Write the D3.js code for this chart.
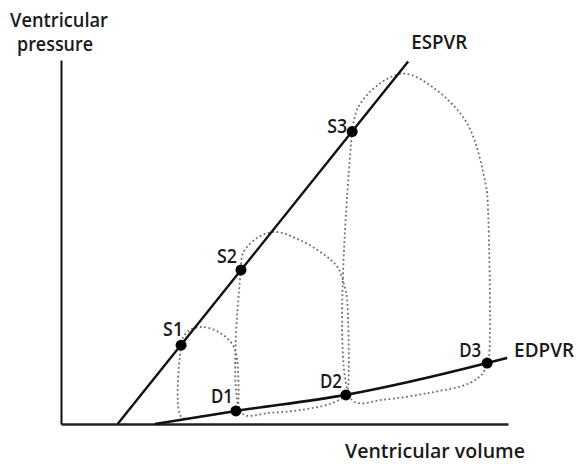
<!DOCTYPE html>
<html>
<head>
<meta charset="utf-8">
<script src="https://cdn.jsdelivr.net/npm/d3@7"></script>
<style>
  html, body { margin: 0; padding: 0; background: #fff; }
  svg { display: block; }
  text { font-family: "Open Sans", "DejaVu Sans", sans-serif; font-weight: 600; fill: #1a1a1a; }
</style>
</head>
<body>
<svg id="chart" width="580" height="464"></svg>
<script>
// Pressure–volume relations (arbitrary units: volume 0–150, pressure 0–120)

// End-systolic pressure–volume relation (straight line)
const espvrVolume   = [19, 116.5];
const espvrPressure = [0, 119.5];

// End-diastolic pressure–volume relation
const edpvrVolume   = [31.5, 58.7, 95.6, 143, 149.7];
const edpvrPressure = [0, 4.3, 9.6, 20.1, 21.8];

// End-systolic points S1–S3
const sNames    = ["S1", "S2", "S3"];
const sVolume   = [40.3, 60.4, 97.7];
const sPressure = [26.0, 50.8, 96.4];

// End-diastolic points D1–D3
const dNames    = ["D1", "D2", "D3"];
const dVolume   = [58.7, 95.6, 143];
const dPressure = [4.3, 9.6, 20.1];

// Three pressure–volume loops, each traced from S around to S
const loop1Volume   = [40.3, 40.4, 47, 53, 58.7, 59.1, 59.1, 57.7, 53.4, 47.6, 43.3, 40.9, 40.3];
const loop1Pressure = [26.0, 2.3, 2.6, 3.3, 4.3, 4.4, 21.1, 26.0, 30.0, 32.0, 31.0, 28.4, 26.0];

const loop2Volume   = [60.4, 60.7, 70.1, 80.2, 90.2, 95.6, 96.0, 96.0, 95.2, 93.0, 89.3, 80.2, 71.8, 65.8, 61.1, 60.4];
const loop2Pressure = [50.8, 3.6, 3.7, 4.6, 6.6, 9.2, 9.4, 40.9, 45.2, 51.4, 55.1, 60.6, 63.3, 61.3, 56.4, 50.8];

const loop3Volume   = [97.7, 97.7, 108.0, 123.8, 137.2, 141.6, 143, 143.3, 143.3, 142.5, 136.2, 124.8, 115.0, 106.0, 99.5, 97.7];
const loop3Pressure = [96.4, 7.9, 8.0, 10.3, 13.5, 16.8, 20.1, 20.1, 70.6, 79.0, 99.2, 111.0, 115.5, 111.5, 104.0, 96.4];

// Text
const yTitle = ["Ventricular", "pressure"];
const xTitle = "Ventricular volume";
const lineNames = ["ESPVR", "EDPVR"];

const svg = d3.select("#chart");

const x = d3.scaleLinear().domain([0, 150]).range([61, 508]);
const y = d3.scaleLinear().domain([0, 120]).range([424, 60]);

// Axes: bare domain lines, no ticks
svg.append("g")
  .attr("transform", `translate(0,${y(0)})`)
  .call(d3.axisBottom(x).tickValues([]).tickSizeOuter(0))
  .call(g => g.select(".domain").attr("stroke", "#222").attr("stroke-width", 2.6));

svg.append("g")
  .attr("transform", `translate(${x(0)},0)`)
  .call(d3.axisLeft(y).tickValues([]).tickSizeOuter(0))
  .call(g => g.select(".domain").attr("stroke", "#111").attr("stroke-width", 2));

const zip = (vs, ps) => vs.map((v, i) => [v, ps[i]]);

const line = d3.line().x(d => x(d[0])).y(d => y(d[1]));

// Dotted loops
const loops = [
  zip(loop1Volume, loop1Pressure),
  zip(loop2Volume, loop2Pressure),
  zip(loop3Volume, loop3Pressure)
];
const loopLine = d3.line().x(d => x(d[0])).y(d => y(d[1])).curve(d3.curveCatmullRom.alpha(0.5));
svg.append("g")
  .selectAll("path")
  .data(loops)
  .join("path")
  .attr("d", loopLine)
  .attr("fill", "none")
  .attr("stroke", "#6e6e6e")
  .attr("stroke-width", 1.8)
  .attr("stroke-dasharray", "1.8,2.6");

// ESPVR
svg.append("path")
  .datum(zip(espvrVolume, espvrPressure))
  .attr("d", line)
  .attr("fill", "none")
  .attr("stroke", "#111")
  .attr("stroke-width", 2.4);

// EDPVR
svg.append("path")
  .datum(zip(edpvrVolume, edpvrPressure))
  .attr("d", d3.line().x(d => x(d[0])).y(d => y(d[1])).curve(d3.curveMonotoneX))
  .attr("fill", "none")
  .attr("stroke", "#111")
  .attr("stroke-width", 2.6);

// Points
const pts = zip(sVolume, sPressure).concat(zip(dVolume, dPressure));
svg.append("g")
  .selectAll("circle")
  .data(pts)
  .join("circle")
  .attr("cx", d => x(d[0]))
  .attr("cy", d => y(d[1]))
  .attr("r", 5.5)
  .attr("fill", "#000");

// Point labels: offsets from each point (right edge, baseline)
const sLabelOffset = [[2, -9], [-4, -7], [-5, 1]];
const dLabelOffset = [[-3, -8], [-4, -7], [-6, -6]];
const fontSize = 19;

function label(sel, txt, px, py, len, anchor) {
  sel.append("text")
    .attr("x", px)
    .attr("y", py)
    .attr("text-anchor", anchor || "start")
    .attr("font-size", fontSize)
    .attr("textLength", len)
    .attr("lengthAdjust", "spacingAndGlyphs")
    .text(txt);
}

const g = svg.append("g");
sNames.forEach((n, i) => {
  label(g, n, x(sVolume[i]) + sLabelOffset[i][0], y(sPressure[i]) + sLabelOffset[i][1], 20, "end");
});
dNames.forEach((n, i) => {
  label(g, n, x(dVolume[i]) + dLabelOffset[i][0], y(dPressure[i]) + dLabelOffset[i][1], 22, "end");
});

label(g, lineNames[0], x(espvrVolume[1]) + 3, y(espvrPressure[1]) - 13, 56);
label(g, lineNames[1], x(edpvrVolume[4]) + 7, y(edpvrPressure[4]) - 1, 60);

label(g, yTitle[0], 10, 27, 98);
label(g, yTitle[1], 17, 51, 76);
label(g, xTitle, 345, 458, 180);
</script>
</body>
</html>
